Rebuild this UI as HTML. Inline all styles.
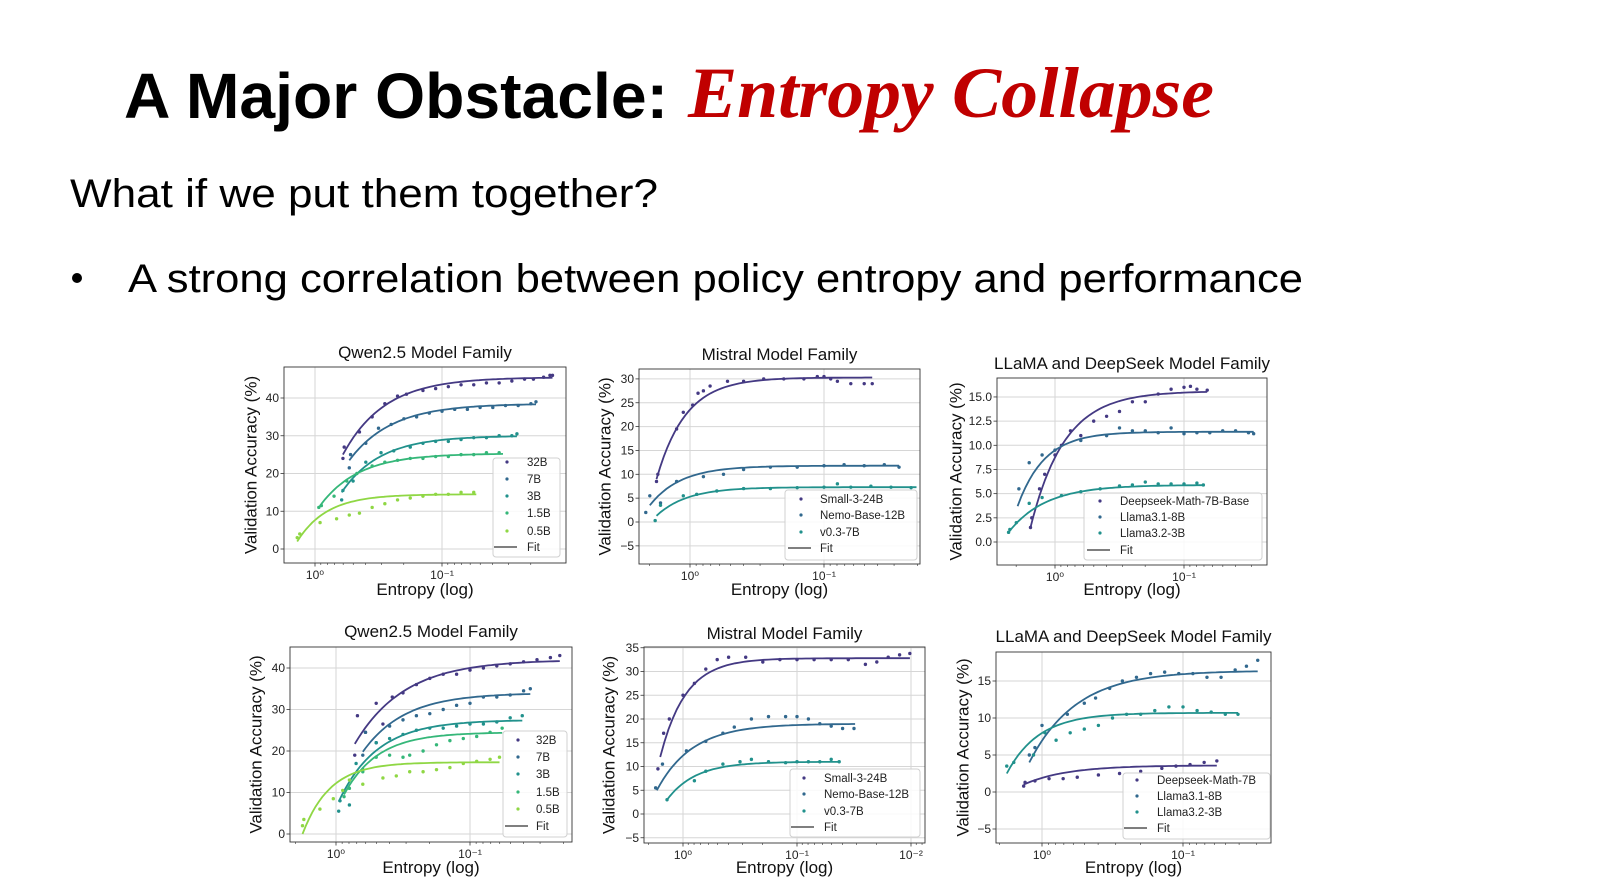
<!DOCTYPE html>
<html><head><meta charset="utf-8"><style>
html,body{margin:0;padding:0;background:#fff;}
svg{display:block;}
</style></head><body>
<svg id="slide" width="1600" height="896" viewBox="0 0 1600 896" xmlns="http://www.w3.org/2000/svg">
<rect x="0" y="0" width="1600" height="896" fill="#fff"/>
<text x="124" y="118" font-family="Liberation Sans, sans-serif" font-weight="bold" font-size="64" textLength="544" lengthAdjust="spacingAndGlyphs">A Major Obstacle:</text>
<text x="688" y="117" font-family="Liberation Serif, serif" font-weight="bold" font-style="italic" font-size="72" fill="#c00000" textLength="526" lengthAdjust="spacingAndGlyphs">Entropy Collapse</text>
<text x="70" y="207" font-family="Liberation Sans, sans-serif" font-size="40" textLength="588" lengthAdjust="spacingAndGlyphs">What if we put them together?</text>
<circle cx="77" cy="278" r="5" fill="#000"/>
<text x="128" y="292" font-family="Liberation Sans, sans-serif" font-size="40" textLength="1175" lengthAdjust="spacingAndGlyphs">A strong correlation between policy entropy and performance</text>
<g id="charts"></g>
</svg>
<script>
// ---------- DATA (x = decades below entropy 1, i.e. -log10(entropy); y = accuracy %) ----------
const c1Names = ["32B","7B","3B","1.5B","0.5B"];
const c1FitA = [45.5,38.5,30,25.3,14.5];
const c1FitB = [20.5,15,15,14.3,12.5];
const c1FitK = [3.05,3.0,3.3,3.3,4.3];
const c1FitD0 = [0.22,0.27,0.21,0.03,-0.14];
const c1FitD1 = [1.87,1.74,1.59,1.48,1.27];
const c1P0 = [[0.22,24],[0.23,27],[0.35,31],[0.45,35],[0.55,38.5],[0.65,40.5],[0.72,41],[0.85,42],[0.95,42.5],[1.05,43],[1.15,43.5],[1.25,43.5],[1.35,44],[1.45,44],[1.55,44.5],[1.65,45],[1.72,45],[1.8,45.5],[1.85,46],[1.87,46]];
const c1P1 = [[0.27,21.5],[0.28,25],[0.4,28],[0.5,32],[0.6,33],[0.7,34.5],[0.8,35],[0.9,36],[1.0,36.5],[1.1,37],[1.2,37],[1.3,37.5],[1.4,37.5],[1.5,38],[1.6,38],[1.7,38.5],[1.74,39]];
const c1P2 = [[0.21,13],[0.22,15.5],[0.3,18],[0.4,23],[0.52,25.5],[0.62,26],[0.75,27],[0.85,28],[0.95,28.5],[1.05,28.5],[1.15,29],[1.25,29.5],[1.35,29.5],[1.45,30],[1.55,30],[1.59,30.5]];
const c1P3 = [[0.03,11],[0.05,11.5],[0.15,14],[0.25,18],[0.33,20],[0.45,22],[0.55,23],[0.65,23.5],[0.75,24],[0.85,24],[0.95,24.5],[1.05,24.5],[1.15,25],[1.25,25],[1.35,25.5],[1.45,25.5]];
const c1P4 = [[-0.14,3],[-0.12,4],[0.04,7],[0.17,8],[0.27,9],[0.35,9.5],[0.45,11],[0.55,12],[0.65,13],[0.75,13.5],[0.85,14],[0.95,14.5],[1.05,14.5],[1.15,15],[1.25,15]];
const c1YTicks = [0,10,20,30,40];

const c2Names = ["Small-3-24B","Nemo-Base-12B","v0.3-7B"];
const c2FitA = [30.3,11.8,7.3];
const c2FitB = [21.3,8.3,6];
const c2FitK = [4.6,4.3,4.4];
const c2FitD0 = [-0.25,-0.3,-0.25];
const c2FitD1 = [1.36,1.56,1.69];
const c2P0 = [[-0.25,8.5],[-0.24,10],[-0.1,19.5],[-0.05,23],[0.02,24.5],[0.06,27],[0.1,27.5],[0.15,28.5],[0.28,29.5],[0.4,29.5],[0.55,30],[0.7,30],[0.85,30],[0.95,30.5],[1.0,30.5],[1.05,30],[1.1,29.5],[1.2,29],[1.3,29],[1.36,29]];
const c2P1 = [[-0.33,2],[-0.3,5.5],[-0.22,4],[-0.1,8.5],[0.1,9.5],[0.25,10],[0.4,11],[0.6,11.5],[0.8,11.5],[1.0,11.8],[1.15,12],[1.3,11.8],[1.45,12],[1.56,11.5]];
const c2P2 = [[-0.26,0.3],[-0.22,3.5],[-0.05,5.5],[0.05,5.8],[0.2,6.5],[0.4,7],[0.6,7],[0.8,7.2],[1.0,7.3],[1.1,8],[1.2,7.3],[1.35,7.5],[1.5,7.3],[1.65,7.2]];
const c2YTicks = [-5,0,5,10,15,20,25,30];

const c3Names = ["Deepseek-Math-7B-Base","Llama3.1-8B","Llama3.2-3B"];
const c3FitA = [15.6,11.4,5.9];
const c3FitB = [14.1,7.7,4.9];
const c3FitK = [3.8,4.8,3.5];
const c3FitD0 = [-0.19,-0.29,-0.36];
const c3FitD1 = [1.18,1.54,1.15];
const c3P0 = [[-0.19,1.5],[-0.18,2.5],[-0.12,5.5],[-0.08,7],[0.0,9],[0.05,10],[0.12,11.5],[0.2,11],[0.3,12.5],[0.4,13],[0.5,13.5],[0.6,14.5],[0.7,14.5],[0.8,15.3],[0.9,15.8],[1.0,16],[1.05,16.1],[1.1,15.8],[1.18,15.7]];
const c3P1 = [[-0.28,5.5],[-0.2,8.2],[-0.1,9],[0.0,9.5],[0.2,10.5],[0.4,11],[0.5,11.8],[0.6,11.5],[0.7,11.5],[0.8,11.3],[0.9,11.8],[1.0,11.2],[1.1,11.3],[1.2,11.3],[1.3,11.5],[1.4,11.5],[1.5,11.3],[1.54,11.2]];
const c3P2 = [[-0.36,1],[-0.35,1.3],[-0.3,2],[-0.2,4],[-0.1,4.6],[0.05,4.8],[0.2,5.2],[0.35,5.5],[0.5,5.8],[0.6,5.9],[0.7,6.2],[0.8,6],[0.9,6],[1.0,6],[1.1,6.1],[1.15,5.9]];
const c3YTicks = [0,2.5,5,7.5,10,12.5,15];

const c4Names = ["32B","7B","3B","1.5B","0.5B"];
const c4FitA = [42,34,27.5,24.5,17.3];
const c4FitB = [20.3,14.2,19.7,15,17.3];
const c4FitK = [2.7,3.2,3.5,4.0,4.9];
const c4FitD0 = [0.14,0.2,0.02,0.06,-0.25];
const c4FitD1 = [1.67,1.45,1.39,1.24,1.22];
const c4P0 = [[0.14,19],[0.16,28.5],[0.22,24.5],[0.3,31.5],[0.35,26.5],[0.42,33],[0.5,34],[0.6,36],[0.7,37.5],[0.8,38.5],[0.9,38.5],[1.0,39.5],[1.1,40],[1.2,40.5],[1.3,41],[1.4,41.5],[1.5,42],[1.6,42.5],[1.67,43]];
const c4P1 = [[0.2,19],[0.22,24.5],[0.3,22],[0.4,26],[0.5,27.5],[0.6,28.5],[0.7,29],[0.8,30],[0.9,31],[1.0,31.5],[1.1,33],[1.2,33],[1.3,33.5],[1.4,34.5],[1.45,35]];
const c4P2 = [[0.02,5.5],[0.03,8],[0.1,7],[0.15,17],[0.2,15.5],[0.3,22],[0.4,23],[0.5,24],[0.6,25],[0.7,25.5],[0.8,25.5],[0.9,26],[1.0,26.5],[1.1,26.5],[1.2,27],[1.3,28],[1.39,28.5]];
const c4P3 = [[0.06,9],[0.1,11],[0.2,15],[0.3,18.5],[0.4,19],[0.5,18.5],[0.55,19],[0.65,20],[0.75,21.5],[0.85,22.5],[0.95,23],[1.05,23.5],[1.15,24.5],[1.24,25.5]];
const c4P4 = [[-0.25,2],[-0.24,3.5],[-0.12,6],[-0.02,8.5],[0.05,10.5],[0.1,13],[0.2,12],[0.35,13.5],[0.45,14],[0.55,15],[0.65,15],[0.75,15.5],[0.85,16],[0.95,17],[1.05,17.5],[1.15,18],[1.22,18.5]];
const c4YTicks = [0,10,20,30,40];

const c5Names = ["Small-3-24B","Nemo-Base-12B","v0.3-7B"];
const c5FitA = [32.8,19,11];
const c5FitB = [20.8,14,8];
const c5FitK = [4.5,3.2,4];
const c5FitD0 = [-0.2,-0.23,-0.14];
const c5FitD1 = [1.99,1.51,1.37];
const c5P0 = [[-0.22,9.5],[-0.17,17],[-0.12,20],[0.0,25],[0.1,27.5],[0.2,30.5],[0.3,32.5],[0.4,33],[0.55,33],[0.7,32],[0.85,32.5],[1.0,32.5],[1.15,32.5],[1.3,32.5],[1.45,32.5],[1.6,31.5],[1.7,32],[1.8,33],[1.9,33.5],[1.99,33.8]];
const c5P1 = [[-0.24,5.5],[-0.18,10.5],[0.03,13.3],[0.2,15.3],[0.35,17],[0.45,18.3],[0.6,20],[0.75,20.5],[0.9,20.5],[1.0,20.5],[1.1,20],[1.2,19],[1.3,18.5],[1.4,18],[1.5,18]];
const c5P2 = [[-0.14,3],[0.1,7],[0.2,9],[0.35,10.5],[0.5,11],[0.6,11.5],[0.75,11],[0.9,10.8],[1.0,11],[1.1,11],[1.2,11],[1.3,11.5],[1.37,11]];
const c5YTicks = [-5,0,5,10,15,20,25,30,35];

const c6Names = ["Deepseek-Math-7B","Llama3.1-8B","Llama3.2-3B"];
const c6FitA = [3.6,16.4,10.7];
const c6FitB = [2.6,12.4,8.2];
const c6FitK = [3.3,3,4.4];
const c6FitD0 = [-0.13,-0.09,-0.25];
const c6FitD1 = [1.24,1.53,1.39];
const c6P0 = [[-0.13,0.8],[-0.12,1.3],[-0.05,1.5],[0.05,1.8],[0.15,1.8],[0.25,2],[0.4,2.3],[0.55,2.5],[0.7,2.8],[0.85,3.2],[0.95,3.5],[1.05,3.7],[1.15,4],[1.24,4.2]];
const c6P1 = [[-0.09,5],[-0.05,6],[0.0,9],[0.18,10.5],[0.3,12],[0.38,12.7],[0.48,14],[0.57,15],[0.67,15.5],[0.77,16],[0.87,16.2],[0.97,16],[1.07,16],[1.17,15.5],[1.27,15.5],[1.37,16.5],[1.45,17],[1.53,17.8]];
const c6P2 = [[-0.25,3.5],[-0.2,4],[-0.06,5],[0.02,8],[0.1,7],[0.2,8],[0.3,8.5],[0.4,9],[0.5,10],[0.6,10.5],[0.7,10.5],[0.8,11],[0.9,11.5],[1.0,11.5],[1.1,11],[1.2,10.8],[1.3,10.5],[1.39,10.5]];
const c6YTicks = [-5,0,5,10,15];

// ---------- LAYOUT ----------
const qwenColors = ["#443983","#31688e","#21918c","#35b779","#8fd744"];
const triColors = ["#443983","#31688e","#21918c"];
const charts = [
 {id:"qwen-top",title:"Qwen2.5 Model Family",names:c1Names,A:c1FitA,B:c1FitB,K:c1FitK,D0:c1FitD0,D1:c1FitD1,pts:[c1P0,c1P1,c1P2,c1P3,c1P4],yt:c1YTicks,dec:1,colors:qwenColors,
  box:[284,367,566,563],x0:315,dpx:127,y0:549,ppu:3.775,tY:358,xlY:595,ylX:251,leg:[493,458,67,99],legRows:[462,479,496,513,531,547],legM:507,legT:527},
 {id:"mistral-top",title:"Mistral Model Family",names:c2Names,A:c2FitA,B:c2FitB,K:c2FitK,D0:c2FitD0,D1:c2FitD1,pts:[c2P0,c2P1,c2P2],yt:c2YTicks,dec:1,colors:triColors,
  box:[639,369,920,564],x0:690,dpx:134,y0:522,ppu:4.77,tY:360,xlY:595,ylX:605,leg:[785,490,132,70],legRows:[499,515,532,548],legM:801,legT:820},
 {id:"llama-top",title:"LLaMA and DeepSeek Model Family",names:c3Names,A:c3FitA,B:c3FitB,K:c3FitK,D0:c3FitD0,D1:c3FitD1,pts:[c3P0,c3P1,c3P2],yt:c3YTicks,dec:1,fmt1:true,colors:triColors,
  box:[997,378,1267,565],x0:1055,dpx:129,y0:542,ppu:9.67,tY:369,xlY:595,ylX:956,leg:[1084,493,178,67],legRows:[501,517,533,550],legM:1100,legT:1120},
 {id:"qwen-bottom",title:"Qwen2.5 Model Family",names:c4Names,A:c4FitA,B:c4FitB,K:c4FitK,D0:c4FitD0,D1:c4FitD1,pts:[c4P0,c4P1,c4P2,c4P3,c4P4],yt:c4YTicks,dec:1,colors:qwenColors,
  box:[290,647,572,842],x0:336,dpx:134,y0:834,ppu:4.15,tY:637,xlY:873,ylX:256,leg:[503,731,64,106],legRows:[740,757,774,792,809,826],legM:518,legT:536},
 {id:"mistral-bottom",title:"Mistral Model Family",names:c5Names,A:c5FitA,B:c5FitB,K:c5FitK,D0:c5FitD0,D1:c5FitD1,pts:[c5P0,c5P1,c5P2],yt:c5YTicks,dec:2,colors:triColors,
  box:[644,647,925,843],x0:683,dpx:114,y0:814,ppu:4.75,tY:639,xlY:873,ylX:609,leg:[790,769,130,68],legRows:[778,794,811,827],legM:804,legT:824},
 {id:"llama-bottom",title:"LLaMA and DeepSeek Model Family",names:c6Names,A:c6FitA,B:c6FitB,K:c6FitK,D0:c6FitD0,D1:c6FitD1,pts:[c6P0,c6P1,c6P2],yt:c6YTicks,dec:1,colors:["#443983","#31688e","#21918c"],
  box:[996,652,1271,843],x0:1042,dpx:141,y0:792,ppu:7.4,tY:642,xlY:873,ylX:963,leg:[1123,773,147,66],legRows:[780,796,812,828],legM:1137,legT:1157}
];
const NS="http://www.w3.org/2000/svg";
const FONT="Liberation Sans, DejaVu Sans, sans-serif";
function mk(tag,attrs,parent){const e=document.createElementNS(NS,tag);for(const k in attrs)e.setAttribute(k,attrs[k]);if(parent)parent.appendChild(e);return e;}
const root=document.getElementById("charts");
const supers=["10⁰","10⁻¹","10⁻²"];
charts.forEach(c=>{
  const g=mk("g",{},root);
  
  
  const [L,T,R,Bt]=c.box;
  const xs=d=>c.x0+d*c.dpx;
  const ys=v=>c.y0-v*c.ppu;
  const clipId="clip-"+c.id;
  const cp=mk("clipPath",{id:clipId},g);mk("rect",{x:L,y:T,width:R-L,height:Bt-T},cp);
  c.yt.forEach(v=>{const y=ys(v);if(y<T||y>Bt)return;
    const ln=mk("line",{x1:L,x2:R,y1:y,y2:y,stroke:"#d6d6d6","stroke-width":1},g);
    
    
    mk("line",{x1:L-3.5,x2:L,y1:y,y2:y,stroke:"#333","stroke-width":0.8},g);
    const t=mk("text",{x:L-5,y:y+4,"text-anchor":"end","font-family":FONT,"font-size":12,fill:"#222"},g);
    t.textContent=c.fmt1?v.toFixed(1):(v<0?"−"+(-v):String(v));
    
    
  });
  for(let dd=-1;dd<=c.dec+1;dd++){
    const xm=xs(dd);
    if(xm>=L&&xm<=R&&dd>=0&&dd<=c.dec){
      const gl=mk("line",{x1:xm,x2:xm,y1:T,y2:Bt,stroke:"#d6d6d6","stroke-width":1},g);
      
      
      mk("line",{x1:xm,x2:xm,y1:Bt,y2:Bt+3.5,stroke:"#333","stroke-width":0.8},g);
      const t=mk("text",{x:xm,y:Bt+16,"text-anchor":"middle","font-family":FONT,"font-size":12,fill:"#222"},g);
      t.textContent=supers[dd];
      
      
    }
    for(let m=2;m<=9;m++){const xm2=xs(dd+1-Math.log10(m));
      if(xm2>L&&xm2<R)mk("line",{x1:xm2,x2:xm2,y1:Bt,y2:Bt+2,stroke:"#333","stroke-width":0.6},g);}
  }
  const pg=mk("g",{"clip-path":"url(#"+clipId+")"},g);
  c.names.forEach((n,i)=>{
    const col=c.colors[i];
    const sg=mk("g",{},pg);
    
    
    c.pts[i].forEach(p=>{
      const dot=mk("circle",{cx:xs(p[0]),cy:ys(p[1]),r:1.7,fill:col},sg);
      
      
    });
    let d="";const N=60;
    for(let j=0;j<=N;j++){const dv=c.D0[i]+(c.D1[i]-c.D0[i])*j/N;
      const v=c.A[i]-c.B[i]*Math.exp(-c.K[i]*(dv-c.D0[i]));
      d+=(j?"L":"M")+xs(dv).toFixed(1)+","+ys(v).toFixed(1);}
    const fl=mk("path",{d:d,fill:"none",stroke:col,"stroke-width":1.8},sg);
    
    
  });
  const fr=mk("rect",{x:L,y:T,width:R-L,height:Bt-T,fill:"none",stroke:"#333","stroke-width":0.9},g);
  
  
  const tt=mk("text",{x:(L+R)/2,y:c.tY,"text-anchor":"middle","font-family":FONT,"font-size":17,fill:"#111"},g);
  tt.textContent=c.title;
  
  
  const xl=mk("text",{x:(L+R)/2,y:c.xlY,"text-anchor":"middle","font-family":FONT,"font-size":17,fill:"#111"},g);
  xl.textContent="Entropy (log)";
  
  
  const yc=(T+Bt)/2;
  const yl=mk("text",{x:c.ylX,y:yc,"text-anchor":"middle","dominant-baseline":"central","font-family":FONT,"font-size":17,fill:"#111",transform:"rotate(-90 "+c.ylX+" "+yc+")"},g);
  yl.textContent="Validation Accuracy (%)";
  
  
  const lg=mk("g",{},g);
  
  
  mk("rect",{x:c.leg[0],y:c.leg[1],width:c.leg[2],height:c.leg[3],rx:3,fill:"#fff","fill-opacity":0.85,stroke:"#d0d0d0","stroke-width":1},lg);
  const labels=c.names.concat(["Fit"]);
  labels.forEach((n,i)=>{
    const ry=c.legRows[i];
    const en=mk("g",{},lg);
    
    
    if(n==="Fit")mk("line",{x1:c.legM-13,x2:c.legM+10,y1:ry,y2:ry,stroke:"#333","stroke-width":1.2},en);
    else mk("circle",{cx:c.legM,cy:ry,r:1.6,fill:c.colors[i]},en);
    const t=mk("text",{x:c.legT,y:ry+4,"font-family":FONT,"font-size":11.5,fill:"#222"},en);
    t.textContent=n;
  });
});
</script>
</body></html>
